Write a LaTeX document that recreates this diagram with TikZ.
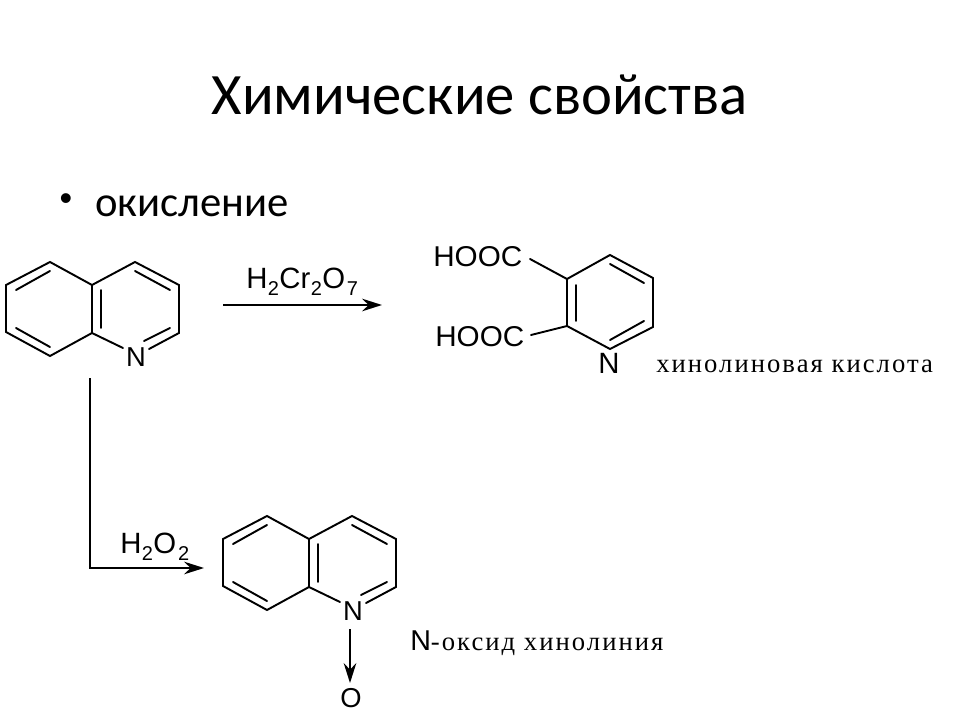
\documentclass[tikz,border=0pt]{standalone}
\usepackage{fontspec}
\setmainfont{Liberation Serif}
\newfontfamily\slidefont{Carlito}
\newfontfamily\chemfont{Liberation Sans}
\newfontfamily\rufont[LetterSpace=7.6]{Liberation Serif}
\usetikzlibrary{arrows.meta}
\newcommand{\chemsub}[1]{\kern0.4pt\raisebox{-5.6pt}{\fontsize{15pt}{15pt}\selectfont #1}\kern0.2pt}
\tikzset{
  bond/.style={line width=1.45pt,line cap=round,line join=miter},
  rarrow/.style={line width=1.45pt,-{Stealth[length=15pt,width=9.5pt,inset=5pt]}},
  chem/.style={inner sep=0pt,font=\chemfont\fontsize{20.5pt}{20.5pt}\selectfont,text=black},
  reagent/.style={inner sep=0pt,anchor=base west,font=\chemfont\fontsize{22pt}{22pt}\selectfont,text=black},
  rulabel/.style={inner sep=0pt,anchor=base west,font=\rufont\fontsize{20pt}{22pt}\selectfont,text=black},
  acid/.style={inner sep=0pt,anchor=base west,font=\chemfont\fontsize{21.5pt}{21.5pt}\selectfont,text=black},
  quinoline/.pic={
    \coordinate (-a) at (50,262);
    \coordinate (-b) at (6,285);
    \coordinate (-c) at (6,332);
    \coordinate (-d) at (50,356);
    \coordinate (-e) at (92,333);
    \coordinate (-f) at (92,285);
    \coordinate (-g) at (135,262);
    \coordinate (-h) at (179,285);
    \coordinate (-i) at (179,333);
    \coordinate (-j) at (123,348);
    \coordinate (-k) at (149,349);
    \node[chem] (-N) at (136,357.5) {N};
    \draw[bond] (-e) -- (-d) -- (-c) -- (-b) -- (-a) -- (-f) -- (-e) -- (-j);
    \draw[bond] (-f) -- (-g) -- (-h) -- (-i) -- (-k);
    \draw[bond] (16,290) -- (50,271);
    \draw[bond] (16,328) -- (50,347);
    \draw[bond] (101,290) -- (101,328);
    \draw[bond] (135,271) -- (170,290);
    \draw[bond] (170,328) -- (144,341);
  }
}
\begin{document}
\begin{tikzpicture}[x=0.75pt,y=-0.75pt]
\useasboundingbox (0,0) rectangle (960,720);
\fill[white] (0,0) rectangle (960,720);
\node[inner sep=0pt,font=\slidefont\fontsize{44pt}{44pt}\selectfont,anchor=base] (title) at (479.5,115) {Химические свойства};
\node[inner sep=0pt,font=\chemfont\fontsize{27pt}{27pt}\selectfont,anchor=base] (bullet) at (66,211) {•};
\node[inner sep=0pt,font=\slidefont\fontsize{32pt}{32pt}\selectfont,anchor=base west] (ox) at (95,217) {окисление};

\pic (q1) at (0,0) {quinoline};
\pic (q2) at (217,254) {quinoline};

% reagents
\coordinate (a1s) at (223,305);
\coordinate (a1e) at (382,305);
\draw[rarrow] (a1s) -- (a1e);
\node[reagent] (r1) at (246,288) {H\chemsub{2}Cr\chemsub{2}O\kern1pt\chemsub{7}};
\coordinate (a2s) at (90,378);
\coordinate (a2c) at (90,568);
\coordinate (a2e) at (204,568);
\draw[rarrow] (a2s) -- (a2c) -- (a2e);
\node[reagent] (r2) at (120,553) {H\chemsub{2}O\kern1pt\chemsub{2}};

% N-oxide
\node[chem] (O) at (351,698) {O};
\coordinate (no1) at (350,629);
\coordinate (no2) at (350,683);
\draw[rarrow] (no1) -- (no2);

% pyridine
\coordinate (pa) at (610,255);
\coordinate (pb) at (653,278);
\coordinate (pc) at (653,327);
\coordinate (pd) at (610,349);
\coordinate (pe) at (567,326);
\coordinate (pf) at (567,279);
\draw[bond] (pa) -- (pb) -- (pc) -- (pd) -- (pe) -- (pf) -- cycle;
\draw[bond] (610,264) -- (644,283);
\draw[bond] (576,285) -- (576,321);
\draw[bond] (610,340) -- (644,321);
\node[chem,font=\chemfont\fontsize{22pt}{22pt}\selectfont] (pN) at (609,363) {N};
\node[acid] (h1) at (433,267) {\scalebox{1.035}[1]{HOOC}};
\node[acid] (h2) at (435,346) {\scalebox{1.035}[1]{HOOC}};
\coordinate (h1e) at (530,259);
\coordinate (h2e) at (531,335);
\draw[bond] (h1e) -- (pf);
\draw[bond] (h2e) -- (pe);

% names
\node[rulabel] (n1) at (656,372) {хинолиновая кислота};
\node[rulabel] (n2) at (410,650) {{\chemfont\fontsize{21.5pt}{22pt}\selectfont N}-оксид хинолиния};
\end{tikzpicture}
\end{document}
